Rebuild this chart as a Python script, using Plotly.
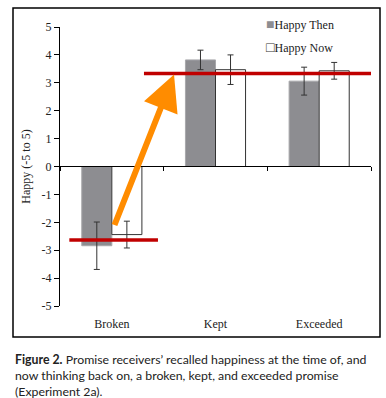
import plotly.graph_objects as go

categories = ["Broken", "Kept", "Exceeded"]
happy_then = [-2.84, 3.82, 3.06]
happy_then_err = [0.85, 0.35, 0.50]
happy_now = [-2.44, 3.47, 3.43]
happy_now_err = [0.48, 0.53, 0.30]
y_ticks = [5, 4, 3, 2, 1, 0, -1, -2, -3, -4, -5]
y_tick_labels = ["5", "4", "3", "2", "1", "0", "-1", "-2", "-3", "-4", "-5"]
red_levels = [-2.63, 3.33]

SERIF = "Liberation Serif"
W, H = 386, 398
L, R, T, B = 60, 15, 2, 92
PW = W - L - R            # 311
PAPER_H = H - T - B       # 304
PLOT_TOP = 27             # pixel row of y = 5
PLOT_BOT = H - B          # 306, pixel row of y = -5


def py(pix):
    """pixel row -> paper y fraction"""
    return (PLOT_BOT - pix) / PAPER_H


def px(pix):
    return (pix - L) / PW


THEN_FILL, THEN_LINE = "#8d8d91", "#a8a8ab"
NOW_FILL, NOW_LINE = "white", "#333333"

fig = go.Figure()
fig.add_trace(go.Bar(
    name="Happy Then", x=categories, y=happy_then, showlegend=False,
    marker=dict(color=THEN_FILL, line=dict(color=THEN_LINE, width=1)),
    error_y=dict(type="data", array=happy_then_err, color="#333333", thickness=1, width=3),
))
fig.add_trace(go.Bar(
    name="Happy Now", x=categories, y=happy_now, showlegend=False,
    marker=dict(color=NOW_FILL, line=dict(color=NOW_LINE, width=1)),
    error_y=dict(type="data", array=happy_now_err, color="#333333", thickness=1, width=3),
))
# legend entries: glyph squares in the label
fig.add_trace(go.Scatter(x=[None], y=[None], mode="lines",
                         name=f"<span style='color:{THEN_FILL};font-size:14px'>\u25A0</span>Happy Then",
                         line=dict(width=0, color="rgba(0,0,0,0)"), legendgroup="a"))
fig.add_trace(go.Scatter(x=[None], y=[None], mode="lines",
                         name="<span style='color:#333333;font-size:14px'>\u25A1</span>Happy Now",
                         line=dict(width=0, color="rgba(0,0,0,0)"), legendgroup="b"))

# Red reference lines
fig.add_shape(type="line", xref="x", yref="y", x0=-0.41, x1=0.445,
              y0=red_levels[0], y1=red_levels[0], line=dict(color="#c00000", width=3.5))
fig.add_shape(type="line", xref="x", yref="y", x0=0.31, x1=2.53,
              y0=red_levels[1], y1=red_levels[1], line=dict(color="#c00000", width=3.5))

# Orange arrow
fig.add_annotation(x=0.60, y=3.3, ax=0.02, ay=-2.15, xref="x", yref="y",
                   axref="x", ayref="y", text="", showarrow=True,
                   arrowhead=2, arrowsize=1.2, arrowwidth=6, arrowcolor="#ff8c00")

# Outer frame
fig.add_shape(type="rect", xref="paper", yref="paper", layer="above",
              x0=px(13), x1=px(380), y0=py(337), y1=py(8),
              line=dict(color="black", width=1.5))

# Caption
fig.add_annotation(
    xref="paper", yref="paper", x=px(13), y=py(350),
    xanchor="left", yanchor="top", align="left", showarrow=False,
    text="<b>Figure 2.</b> Promise receivers\u2019 recalled happiness at the time of, and<br>"
         "now thinking back on, a broken, kept, and exceeded promise<br>(Experiment 2a).",
    font=dict(family="Lato", size=12.3, color="#222222"),
)

fig.update_layout(
    width=W, height=H,
    margin=dict(l=L, r=R, t=T, b=B, autoexpand=False),
    paper_bgcolor="white", plot_bgcolor="white",
    barmode="group", bargap=0.42, bargroupgap=0,
    font=dict(family=SERIF, size=12, color="#222222"),
    legend=dict(x=px(226), y=py(10), xanchor="left", yanchor="top",
                font=dict(family=SERIF, size=12), tracegroupgap=4,
                bgcolor="rgba(0,0,0,0)"),
    xaxis=dict(showline=False, showgrid=False, zeroline=False, automargin=False,
               ticks="outside", ticklen=7, tickcolor="rgba(0,0,0,0)",
               tickfont=dict(family=SERIF, size=12), range=[-0.5, 2.5]),
    xaxis2=dict(overlaying="x", anchor="free", position=py(166), range=[-0.5, 2.5],
                showline=True, linecolor="black", linewidth=1, ticks="outside",
                ticklen=4, tickcolor="black", tickvals=[-0.5, 0.5, 1.5, 2.5],
                showticklabels=False, showgrid=False, zeroline=False, automargin=False),
    yaxis=dict(range=[-5, 5], domain=[0, py(PLOT_TOP)], tickvals=y_ticks, ticktext=y_tick_labels,
               showline=True, linecolor="black", linewidth=1, ticks="outside",
               ticklen=5, tickcolor="black", showgrid=False, zeroline=False, automargin=False,
               tickfont=dict(family=SERIF, size=12),
               title=dict(text="Happy (-5 to 5)", font=dict(family=SERIF, size=12), standoff=8)),
)
fig.add_trace(go.Scatter(x=[0], y=[0], xaxis="x2", mode="markers",
                         marker=dict(opacity=0), showlegend=False, hoverinfo="skip"))

fig.write_html("out.html", config={"displayModeBar": False},
               post_script="document.body.style.margin='0';document.body.style.padding='0';")
